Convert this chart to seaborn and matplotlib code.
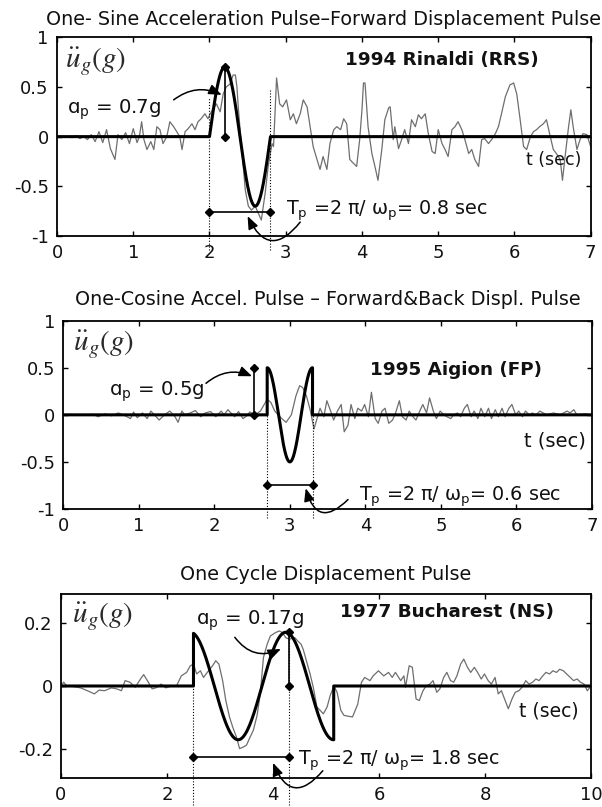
import numpy as np
import pandas as pd
import matplotlib
matplotlib.use("Agg")
import matplotlib.pyplot as plt
import seaborn as sns

# ---------------------------------------------------------------------------
# Recorded ground accelerations (g) versus time (s)
# ---------------------------------------------------------------------------
rinaldi_t = [
    0.0, 0.1, 0.2, 0.25, 0.3, 0.35, 0.4, 0.45, 0.5, 0.55,
    0.6, 0.65, 0.7, 0.76, 0.8, 0.85, 0.9, 0.95, 1.0, 1.05,
    1.08, 1.11, 1.14, 1.18, 1.23, 1.27, 1.31, 1.35, 1.39, 1.44,
    1.48, 1.53, 1.57, 1.61, 1.64, 1.68, 1.72, 1.77, 1.81, 1.85,
    1.89, 1.94, 1.98, 2.01, 2.05, 2.09, 2.14, 2.18, 2.22, 2.27,
    2.31, 2.34, 2.36, 2.38, 2.42, 2.47, 2.51, 2.55, 2.6, 2.64,
    2.68, 2.73, 2.77, 2.82, 2.84, 2.88, 2.92, 2.96, 3.01, 3.06,
    3.10, 3.14, 3.19, 3.23, 3.28, 3.32, 3.36, 3.41, 3.45, 3.49,
    3.54, 3.58, 3.63, 3.67, 3.72, 3.76, 3.80, 3.84, 3.89, 3.93,
    3.97, 4.0, 4.02, 4.04, 4.08, 4.13, 4.17, 4.21, 4.26, 4.30,
    4.35, 4.37, 4.41, 4.43, 4.48, 4.52, 4.56, 4.61, 4.65, 4.70,
    4.74, 4.78, 4.83, 4.87, 4.92, 4.96, 5.0, 5.05, 5.09, 5.13,
    5.18, 5.22, 5.26, 5.31, 5.35, 5.40, 5.44, 5.48, 5.53, 5.57,
    5.61, 5.66, 5.70, 5.75, 5.79, 5.83, 5.88, 5.94, 5.99, 6.03,
    6.07, 6.12, 6.16, 6.21, 6.25, 6.29, 6.33, 6.38, 6.42, 6.47,
    6.51, 6.55, 6.60, 6.63, 6.66, 6.71, 6.74, 6.77, 6.82, 6.86,
    6.90, 6.95, 7.0,
]
rinaldi_acc = [
    0.0, 0.0, -0.01, 0.01, -0.02, 0.0, -0.03, 0.02, -0.05, 0.05,
    -0.06, 0.07, -0.12, -0.23, 0.02, -0.03, 0.04, -0.07, 0.08, -0.06,
    0.0, 0.15, -0.03, -0.13, -0.05, -0.13, 0.10, 0.07, -0.07, 0.0,
    0.15, 0.10, 0.05, 0.0, -0.13, 0.05, 0.08, 0.13, 0.07, 0.15,
    0.18, 0.23, 0.18, 0.23, 0.28, 0.33, 0.25, 0.43, 0.50, 0.53,
    0.62, 0.62, 0.50, 0.27, -0.10, -0.54, -0.70, -0.74, -0.70, -0.77,
    -0.84, -0.57, -0.30, -0.07, -0.10, 0.59, 0.33, 0.30, 0.37, 0.17,
    0.23, 0.13, 0.23, 0.37, 0.30, 0.10, -0.10, -0.23, -0.33, -0.20,
    -0.33, -0.07, 0.07, 0.10, 0.07, 0.18, 0.13, -0.23, -0.27, -0.30,
    -0.03, 0.27, 0.54, 0.54, 0.10, -0.17, -0.30, -0.44, -0.13, 0.17,
    0.29, 0.30, -0.03, 0.10, -0.12, -0.03, 0.07, -0.07, 0.17, 0.10,
    0.22, 0.18, 0.23, 0.03, -0.15, -0.17, 0.07, -0.07, -0.13, -0.20,
    0.07, 0.10, 0.15, 0.07, -0.03, -0.17, -0.13, -0.23, -0.30, -0.03,
    -0.02, -0.07, -0.03, 0.03, 0.10, 0.23, 0.40, 0.52, 0.54, 0.43,
    0.20, -0.10, -0.13, 0.0, 0.05, 0.07, 0.10, 0.13, 0.17, 0.0,
    -0.13, -0.17, -0.23, -0.44, -0.23, 0.10, 0.27, 0.10, -0.13, -0.03,
    0.03, 0.02, -0.10,
]

aigion_t = [
    0.0, 0.1, 0.2, 0.3, 0.4, 0.46, 0.55, 0.64, 0.73, 0.82,
    0.89, 0.93, 0.98, 1.05, 1.11, 1.16, 1.23, 1.27, 1.34, 1.41,
    1.48, 1.52, 1.57, 1.61, 1.68, 1.75, 1.82, 1.88, 1.95, 2.02,
    2.09, 2.13, 2.18, 2.22, 2.27, 2.32, 2.38, 2.43, 2.47, 2.54,
    2.61, 2.66, 2.70, 2.75, 2.80, 2.88, 2.95, 3.02, 3.08, 3.13,
    3.17, 3.22, 3.27, 3.32, 3.36, 3.40, 3.45, 3.49, 3.54, 3.58,
    3.63, 3.68, 3.72, 3.77, 3.81, 3.86, 3.90, 3.95, 3.99, 4.04,
    4.08, 4.13, 4.17, 4.22, 4.26, 4.31, 4.36, 4.40, 4.45, 4.49,
    4.54, 4.58, 4.63, 4.67, 4.72, 4.76, 4.81, 4.85, 4.90, 4.94,
    4.99, 5.04, 5.08, 5.13, 5.17, 5.22, 5.26, 5.31, 5.35, 5.40,
    5.44, 5.49, 5.53, 5.58, 5.63, 5.67, 5.72, 5.76, 5.81, 5.85,
    5.90, 5.94, 5.99, 6.03, 6.08, 6.12, 6.17, 6.21, 6.26, 6.31,
    6.40, 6.49, 6.58, 6.67, 6.71, 6.76, 6.80, 6.90, 7.0,
]
aigion_acc = [
    0.0, 0.005, -0.005, 0.0, 0.005, -0.02, 0.01, -0.01, 0.02, -0.01,
    -0.04, 0.03, -0.03, 0.02, -0.04, 0.04, -0.02, -0.055, 0.0, 0.04,
    -0.02, -0.08, 0.04, 0.0, 0.02, 0.045, -0.02, 0.02, 0.035, -0.02,
    0.04, 0.0, 0.055, 0.02, -0.02, 0.035, -0.04, -0.01, 0.03, 0.0,
    0.04, 0.11, 0.165, 0.13, 0.04, -0.03, -0.08, 0.0, 0.2, 0.31,
    0.29, 0.2, 0.05, -0.15, -0.04, 0.07, -0.02, 0.15, 0.04, -0.055,
    0.04, 0.11, -0.18, -0.11, 0.11, -0.04, 0.07, 0.04, 0.11, -0.02,
    0.24, -0.04, -0.09, 0.04, 0.07, -0.09, -0.055, 0.02, 0.15, -0.02,
    -0.055, 0.04, -0.02, -0.055, 0.04, 0.11, 0.02, 0.18, 0.04, -0.04,
    0.04, 0.0, -0.02, -0.04, 0.0, 0.02, -0.02, 0.07, 0.11, -0.02,
    0.04, -0.04, 0.07, -0.02, 0.07, -0.04, 0.055, -0.02, 0.07, -0.02,
    0.07, 0.11, 0.0, 0.04, -0.02, 0.04, 0.0, 0.02, 0.0, 0.04,
    0.0, 0.02, 0.0, 0.04, 0.02, 0.055, 0.0, 0.01, 0.0,
]

bucharest_t = [
    0.0, 0.05, 0.11, 0.24, 0.37, 0.5, 0.63, 0.72, 0.82, 0.95,
    1.05, 1.14, 1.21, 1.3, 1.4, 1.5, 1.56, 1.63, 1.72, 1.79,
    1.89, 1.98, 2.08, 2.18, 2.27, 2.37, 2.44, 2.5, 2.56, 2.63,
    2.69, 2.76, 2.86, 2.92, 2.98, 3.05, 3.11, 3.18, 3.24, 3.31,
    3.37, 3.44, 3.5, 3.57, 3.63, 3.7, 3.76, 3.82, 3.89, 3.95,
    4.05, 4.12, 4.18, 4.24, 4.31, 4.41, 4.47, 4.53, 4.57, 4.63,
    4.7, 4.76, 4.83, 4.89, 4.95, 5.02, 5.08, 5.15, 5.21, 5.28,
    5.34, 5.44, 5.5, 5.6, 5.67, 5.73, 5.83, 5.89, 5.99, 6.09,
    6.18, 6.25, 6.31, 6.41, 6.47, 6.5, 6.57, 6.63, 6.7, 6.76,
    6.83, 6.89, 6.96, 7.02, 7.09, 7.15, 7.22, 7.28, 7.35, 7.41,
    7.47, 7.54, 7.6, 7.67, 7.73, 7.8, 7.86, 7.93, 7.99, 8.06,
    8.12, 8.19, 8.25, 8.31, 8.38, 8.44, 8.51, 8.57, 8.64, 8.7,
    8.77, 8.83, 8.9, 8.96, 9.02, 9.09, 9.15, 9.22, 9.28, 9.35,
    9.41, 9.48, 9.54, 9.61, 9.67, 9.74, 9.8, 9.87, 9.93, 10.0,
]
bucharest_acc = [
    0.0, 0.012, 0.0, -0.002, -0.006, -0.015, -0.025, -0.013, -0.015, -0.006,
    -0.009, -0.015, 0.017, 0.012, -0.004, 0.022, 0.036, 0.017, -0.009, -0.006,
    0.006, -0.006, 0.0, 0.0, 0.032, 0.043, 0.064, 0.069, 0.038, 0.048,
    0.027, 0.043, 0.064, 0.08, 0.069, 0.017, -0.046, -0.098, -0.13, -0.161,
    -0.198, -0.193, -0.187, -0.161, -0.14, -0.093, -0.025, 0.09, 0.132, 0.158,
    0.169, 0.174, 0.169, 0.153, 0.148, 0.153, 0.142, 0.132, 0.116, 0.08,
    0.038, -0.004, -0.067, -0.077, -0.088, -0.067, -0.03, 0.0, -0.02, -0.077,
    -0.093, -0.096, -0.098, -0.057, 0.012, 0.027, 0.017, 0.032, 0.048, 0.032,
    0.043, 0.027, 0.043, 0.017, 0.032, -0.004, 0.064, 0.059, -0.041, -0.046,
    -0.015, 0.0, 0.006, 0.017, -0.02, -0.009, 0.027, 0.043, 0.017, 0.012,
    0.032, 0.069, 0.085, 0.059, 0.043, 0.059, 0.043, 0.022, 0.038, 0.017,
    0.006, 0.027, -0.025, -0.015, -0.046, -0.072, -0.041, -0.02, -0.015, -0.004,
    0.017, 0.006, 0.012, 0.022, 0.017, 0.032, 0.043, 0.038, 0.048, 0.043,
    0.053, 0.048, 0.038, 0.027, 0.017, 0.022, 0.012, 0.006, -0.015, 0.0,
]

# ---------------------------------------------------------------------------
# Pulse idealisations: a_p cos(w_p (t - t0) + phase) over a number of cycles
# ---------------------------------------------------------------------------
record_names = ["1994 Rinaldi (RRS)", "1995 Aigion (FP)", "1977 Bucharest (NS)"]
panel_titles = [
    "One- Sine Acceleration Pulse\u2013Forward Displacement Pulse",
    "One-Cosine Accel. Pulse \u2013 Forward&Back Displ. Pulse",
    "One Cycle Displacement Pulse",
]
pulse_amp = [0.7, 0.5, 0.17]        # a_p (g)
pulse_period = [0.8, 0.6, 1.8]      # T_p (s)
pulse_start = [2.0, 2.7, 2.5]       # onset time (s)
pulse_phase = [-np.pi / 2, 0.0, 0.2]
pulse_cycles = [1.0, 1.0, 1.47]

x_max = [7, 7, 10]
x_ticks = [[0, 1, 2, 3, 4, 5, 6, 7], [0, 1, 2, 3, 4, 5, 6, 7], [0, 2, 4, 6, 8, 10]]
y_lims = [(-1, 1), (-1, 1), (-0.29, 0.29)]
y_ticks = [[-1, -0.5, 0, 0.5, 1], [-1, -0.5, 0, 0.5, 1], [-0.2, 0, 0.2]]
y_ticklabels = [["-1", "-0.5", "0", "0.5", "1"],
                ["-1", "-0.5", "0", "0.5", "1"],
                ["-0.2", "0", "0.2"]]

records = [(rinaldi_t, rinaldi_acc), (aigion_t, aigion_acc), (bucharest_t, bucharest_acc)]

# ---------------------------------------------------------------------------
# Layout of each panel (figure fractions / data coordinates)
# ---------------------------------------------------------------------------
layout = [
    dict(rect=[0.0947, 0.7076, 0.8865, 0.2462], title_pad=8.6,
         ylabel_xy=(0.10, 0.75), name_xy=(5.05, 0.77),
         ap_text_xy=(0.13, 0.27), ap_arrow=((1.53, 0.37), (2.16, 0.42), -0.3),
         ap_marker_t=2.2, dotted_bottom=-1.14, dotted_tops=(0.40, 0.48),
         bar_y=-0.76, tp_text_xy=(3.0, -0.75),
         tp_arrow=((3.19, -0.86), (2.5, -0.80), -0.8),
         tsec_xy=(6.51, -0.235), tsec_size=12.5),
    dict(rect=[0.1051, 0.3693, 0.8782, 0.2333], title_pad=11.3,
         ylabel_xy=(0.13, 0.74), name_xy=(5.2, 0.48),
         ap_text_xy=(0.60, 0.25), ap_arrow=((1.89, 0.335), (2.50, 0.41), -0.3),
         ap_marker_t=2.52, dotted_bottom=-1.10, dotted_tops=(0.5, 0.5),
         bar_y=-0.745, tp_text_xy=(3.92, -0.87),
         tp_arrow=((3.77, -0.90), (3.21, -0.78), -0.85),
         tsec_xy=(6.51, -0.28), tsec_size=14),
    dict(rect=[0.1013, 0.0363, 0.8804, 0.2273], title_pad=10.0,
         ylabel_xy=(0.20, 0.218), name_xy=(7.28, 0.234),
         ap_text_xy=(2.54, 0.205), ap_arrow=((3.28, 0.154), (4.15, 0.117), 0.4),
         ap_marker_t=None, dotted_bottom=-0.375, dotted_tops=(0.17, 0.17),
         bar_y=-0.224, tp_text_xy=(4.47, -0.237),
         tp_arrow=((4.94, -0.268), (4.0, -0.243), -0.82),
         tsec_xy=(9.21, -0.078), tsec_size=13.5),
]

TEXT = "#111111"
TRACE = "#6e6e6e"

sns.set_theme(style="ticks")
plt.rcParams.update({
    "font.family": ["DejaVu Sans"],
    "axes.unicode_minus": False,
    "axes.linewidth": 1.3,
    "axes.edgecolor": "black",
    "axes.facecolor": "white",
    "figure.facecolor": "white",
    "xtick.direction": "in",
    "ytick.direction": "in",
    "xtick.top": True,
    "ytick.right": True,
    "xtick.major.size": 3.6,
    "ytick.major.size": 3.6,
    "xtick.major.width": 1.0,
    "ytick.major.width": 1.0,
    "xtick.major.pad": 6,
    "ytick.major.pad": 6,
    "xtick.labelsize": 13,
    "ytick.labelsize": 13,
    "xtick.color": "black",
    "ytick.color": "black",
    "xtick.labelcolor": TEXT,
    "ytick.labelcolor": TEXT,
    "text.color": TEXT,
})


def pulse_series(t0, amp, period, phase, cycles, t_end):
    omega = 2 * np.pi / period
    s = np.linspace(0.0, cycles * period, 301)
    body = amp * np.cos(omega * s + phase)
    t = np.concatenate([[0.0, t0], t0 + s, [t0 + s[-1], t_end]])
    a = np.concatenate([[0.0, 0.0], body, [0.0, 0.0]])
    return pd.DataFrame({"t": t, "acc": a})


def curved_arrow(ax, start, end, rad):
    ax.annotate("", xy=end, xytext=start, annotation_clip=False,
                arrowprops=dict(arrowstyle="-|>,head_length=0.55,head_width=0.22",
                                color="black", lw=1.1, shrinkA=0, shrinkB=0,
                                mutation_scale=14,
                                connectionstyle=f"arc3,rad={rad}"))


fig = plt.figure(figsize=(6.02, 8.07), dpi=100)

for i in range(3):
    lay = layout[i]
    ax = fig.add_axes(lay["rect"])
    t_rec, a_rec = records[i]
    amp, period, t0 = pulse_amp[i], pulse_period[i], pulse_start[i]

    # recorded motion
    rec = pd.DataFrame({"t": t_rec, "acc": a_rec})
    sns.lineplot(data=rec, x="t", y="acc", ax=ax, color=TRACE, linewidth=0.9,
                 estimator=None, sort=False, zorder=2)

    # idealised pulse
    pulse = pulse_series(t0, amp, period, pulse_phase[i], pulse_cycles[i], x_max[i])
    sns.lineplot(data=pulse, x="t", y="acc", ax=ax, color="black", linewidth=2.2,
                 estimator=None, sort=False, zorder=3)

    ax.set_xlim(0, x_max[i])
    ax.set_ylim(*y_lims[i])
    ax.set_xticks(x_ticks[i])
    ax.set_xticklabels([str(v) for v in x_ticks[i]])
    ax.set_yticks(y_ticks[i])
    ax.set_yticklabels(y_ticklabels[i])
    ax.set_xlabel("")
    ax.set_ylabel("")
    for sp in ax.spines.values():
        sp.set_visible(True)
    ax.set_title(panel_titles[i], fontsize=13.8, pad=lay["title_pad"], color=TEXT)

    # axis quantity and record name
    ax.text(*lay["ylabel_xy"], r"$\ddot{u}_g(g)$", math_fontfamily="stix",
            fontsize=21, ha="left", va="center", color="#2a2a2a")
    ax.text(*lay["name_xy"], record_names[i], fontsize=13.2, fontweight="bold",
            ha="center", va="center")
    ax.text(*lay["tsec_xy"], "t (sec)", fontsize=lay["tsec_size"],
            ha="center", va="center")

    # pulse duration guides
    t1 = t0 + period
    for tx, top in zip((t0, t1), lay["dotted_tops"]):
        ax.plot([tx, tx], [lay["dotted_bottom"], top], color="black", lw=0.8,
                ls=(0, (1, 1.6)), clip_on=False, zorder=4)
    ax.plot([t0, t1], [lay["bar_y"], lay["bar_y"]], color="black", lw=1.2,
            marker="D", markersize=4.2, zorder=5)
    ax.text(*lay["tp_text_xy"],
            f"T$_\\mathregular{{p}}$ =2 \u03c0/ \u03c9$_\\mathregular{{p}}$= {period:g} sec",
            fontsize=13.8, ha="left", va="center")
    curved_arrow(ax, *lay["tp_arrow"][:2], lay["tp_arrow"][2])

    # pulse amplitude marker
    tm = lay["ap_marker_t"] if lay["ap_marker_t"] is not None else t1
    ax.plot([tm, tm], [0, amp], color="black", lw=1.2, marker="D",
            markersize=4.2, zorder=5)
    ax.text(*lay["ap_text_xy"], f"\u0251$_\\mathregular{{p}}$ = {amp:g}g",
            fontsize=14.2, ha="left", va="center")
    curved_arrow(ax, *lay["ap_arrow"][:2], lay["ap_arrow"][2])

fig.savefig("out.png", dpi=100)
